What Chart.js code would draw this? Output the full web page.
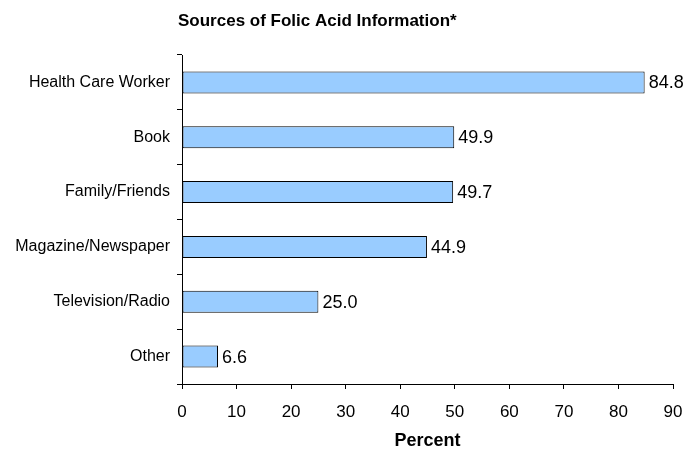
<!DOCTYPE html>
<html>
<head>
<meta charset="utf-8">
<script src="https://cdn.jsdelivr.net/npm/chart.js@4/dist/chart.umd.min.js"></script>
<style>
  html, body { margin: 0; padding: 0; background: #fff; }
</style>
</head>
<body>
<canvas id="myChart" width="686" height="449"></canvas>
<script>
const chartTitle = 'Sources of Folic Acid Information*';
const sources = ['Health Care Worker', 'Book', 'Family/Friends', 'Magazine/Newspaper', 'Television/Radio', 'Other'];
const percents = [84.8, 49.9, 49.7, 44.9, 25.0, 6.6];
const xTicks = [0, 10, 20, 30, 40, 50, 60, 70, 80, 90];

const fontFamily = '"Liberation Sans", Arial, sans-serif';

// value labels at the end of each bar + the title (placed off-centre like the original)
const labelPlugin = {
    id: 'labelPlugin',
    afterDatasetsDraw(chart) {
        const ctx = chart.ctx;
        const meta = chart.getDatasetMeta(0);
        ctx.save();
        ctx.fillStyle = '#000';
        ctx.font = '18px ' + fontFamily;
        ctx.textBaseline = 'middle';
        ctx.textAlign = 'left';
        meta.data.forEach((bar, i) => {
            ctx.fillText(percents[i].toFixed(1), bar.x + 4, bar.y + 1);
        });
        ctx.font = 'bold 17px ' + fontFamily;
        ctx.fillText(chartTitle, 178, 21);
        ctx.restore();
    }
};

const ctx = document.getElementById('myChart').getContext('2d');
const myChart = new Chart(ctx, {
    type: 'bar',
    data: {
        labels: sources,
        datasets: [{
            label: 'Percent',
            data: percents,
            backgroundColor: '#99CCFF',
            borderColor: '#000',
            borderWidth: 1,
            borderSkipped: false,
            barPercentage: 0.4,
            categoryPercentage: 1.0
        }]
    },
    options: {
        indexAxis: 'y',
        responsive: false,
        animation: false,
        layout: {
            padding: { top: 55, right: 13, bottom: 0, left: 0 }
        },
        plugins: {
            legend: { display: false },
            tooltip: { enabled: false },
            title: { display: false }
        },
        scales: {
            x: {
                min: 0,
                max: 90,
                afterBuildTicks: (scale) => {
                    scale.ticks = xTicks.map(v => ({ value: v }));
                },
                afterFit: (scale) => {
                    scale.height = 65;
                    scale.paddingRight = 0;
                    scale.paddingLeft = 0;
                },
                grid: {
                    drawOnChartArea: false,
                    drawTicks: true,
                    tickLength: 5,
                    color: '#000'
                },
                border: { color: '#000', width: 1 },
                ticks: {
                    color: '#000',
                    padding: 13,
                    maxRotation: 0,
                    font: { family: fontFamily, size: 17 }
                },
                title: {
                    display: true,
                    text: 'Percent',
                    color: '#000',
                    padding: { top: 4, bottom: -3 },
                    font: { family: fontFamily, size: 18, weight: 'bold' }
                }
            },
            y: {
                afterFit: (scale) => { scale.width = 182; },
                grid: {
                    offset: true,
                    drawOnChartArea: false,
                    drawTicks: true,
                    tickLength: 5,
                    color: '#000'
                },
                border: { color: '#000', width: 1 },
                ticks: {
                    color: '#000',
                    padding: 7,
                    font: { family: fontFamily, size: 16 }
                }
            }
        }
    },
    plugins: [labelPlugin]
});
</script>
</body>
</html>
